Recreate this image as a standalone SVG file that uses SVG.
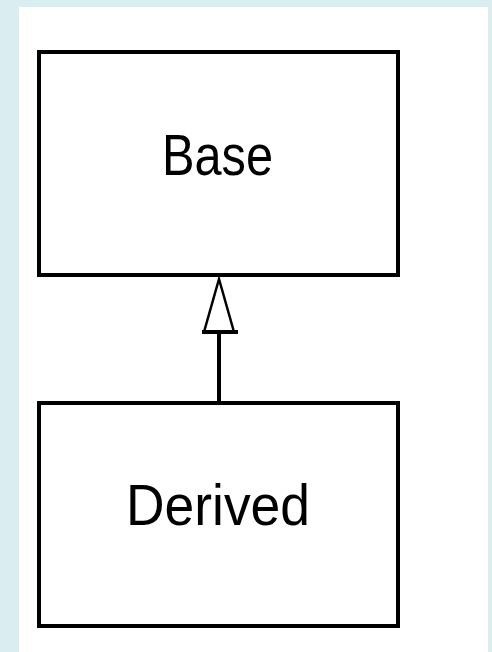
<svg xmlns="http://www.w3.org/2000/svg" width="492" height="652" viewBox="0 0 492 652">
<style>
.box{fill:#fff;stroke:#000;stroke-width:4}
.lbl{font-family:"Liberation Sans",Arial,sans-serif;font-size:57px;fill:#000;text-anchor:middle}
.edge{stroke:#000;stroke-width:4;fill:none}
.tri{fill:#fff;stroke:#000;stroke-width:2.5}
</style>
<rect x="0" y="0" width="492" height="652" fill="#daedf1"/>
<rect x="19" y="7" width="469" height="645" fill="#fff"/>
<g id="connectors">
<line class="edge" x1="219" y1="333" x2="219" y2="402"/>
<polygon class="tri" points="219,279 204,332 234,332"/>
<line class="edge" x1="202" y1="332" x2="238" y2="332"/>
</g>
<g id="Base">
<rect class="box" x="39" y="52" width="359" height="223"/>
<text class="lbl" x="217.5" y="175" textLength="111" lengthAdjust="spacingAndGlyphs">Base</text>
</g>
<g id="Derived">
<rect class="box" x="39" y="403" width="359" height="223"/>
<text class="lbl" x="218" y="525" textLength="184" lengthAdjust="spacingAndGlyphs">Derived</text>
</g>
</svg>
